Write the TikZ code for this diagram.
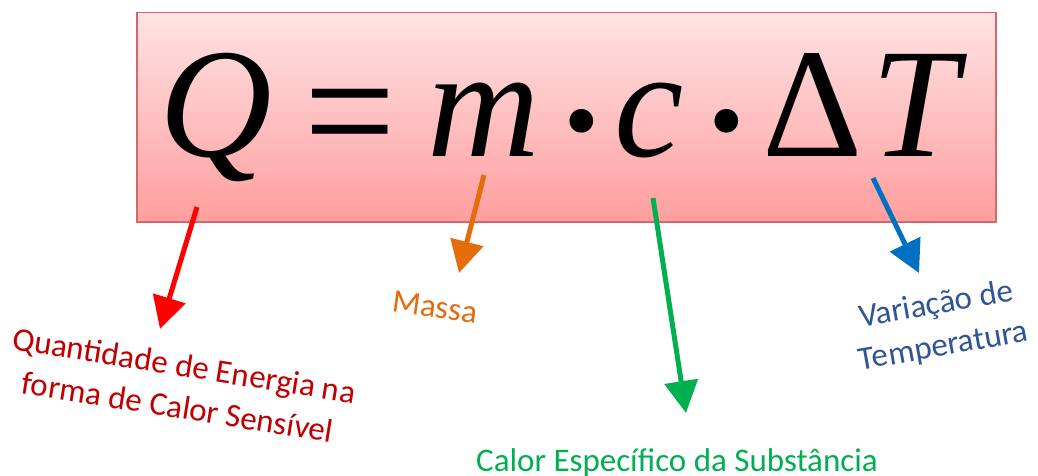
\documentclass[tikz,border=0pt]{standalone}
\usepackage{fontspec}
\setmainfont{Carlito}
\newfontfamily\eqf{Liberation Serif}
\usetikzlibrary{arrows.meta}
\definecolor{boxtop}{HTML}{FFE3E5}
\definecolor{boxbot}{HTML}{FF9E9E}
\definecolor{boxline}{HTML}{D06A6A}
\definecolor{cred}{HTML}{FF0000}
\definecolor{tred}{HTML}{C00000}
\definecolor{corange}{HTML}{E46C0A}
\definecolor{cgreen}{HTML}{00B050}
\definecolor{cblue}{HTML}{0070C0}
\definecolor{tblue}{HTML}{2F5597}
\begin{document}
\begin{tikzpicture}[x=1pt,y=-1pt,
  glyph/.style={inner sep=0pt, anchor=base, font=\eqf\fontsize{156}{156}\selectfont},
  lbl/.style={inner sep=0pt, font=\fontsize{33}{42}\selectfont, align=center},
  pointer/.style={line width=5pt, -{Triangle[length=32pt,width=33pt]}}]
\useasboundingbox (0,0) rectangle (1038,476);
\node[draw=boxline, line width=1.5pt, top color=boxtop, bottom color=boxbot,
      minimum width=859pt, minimum height=209pt, anchor=north west, inner sep=0pt] (box) at (136,12) {};
\node[glyph] (q)  at (216,157) {\itshape Q};
\node[glyph, font=\eqf\fontsize{180}{180}\selectfont] (eq) at (350,171) {\scalebox{0.9}[1]{=}};
\node[glyph] (m)  at (484,157) {\itshape m};
\node[glyph, font=\eqf\fontsize{200}{200}\selectfont] (d1) at (582,187) {·};
\node[glyph] (c)  at (649,157) {\itshape c};
\node[glyph, font=\eqf\fontsize{200}{200}\selectfont] (d2) at (727,187) {·};
\node[glyph] (dl) at (813,157) {Δ};
\node[glyph] (t)  at (915,157) {\itshape T};
\node[lbl, text=tred, rotate=-9] (lq) at (181,386) {Quantidade de Energia na\\forma de Calor Sensível};
\node[lbl, text=corange, rotate=-8] (lm) at (435,307) {Massa};
\node[lbl, text=cgreen, anchor=base] (lc) at (677,471) {Calor Específico da Substância};
\node[lbl, text=tblue, rotate=10] (lt) at (940,326) {Variação de\\Temperatura};
\coordinate (rs) at (197,207); \coordinate (rt) at (160,329);
\coordinate (os) at (484,175); \coordinate (ot) at (459,273);
\coordinate (gs) at (653,198); \coordinate (gt) at (686,413);
\coordinate (bs) at (873,178); \coordinate (bt) at (919,273);
\draw[pointer, cred] (rs) -- (rt);
\draw[pointer, corange] (os) -- (ot);
\draw[pointer, cgreen] (gs) -- (gt);
\draw[pointer, cblue] (bs) -- (bt);
\end{tikzpicture}
\end{document}
